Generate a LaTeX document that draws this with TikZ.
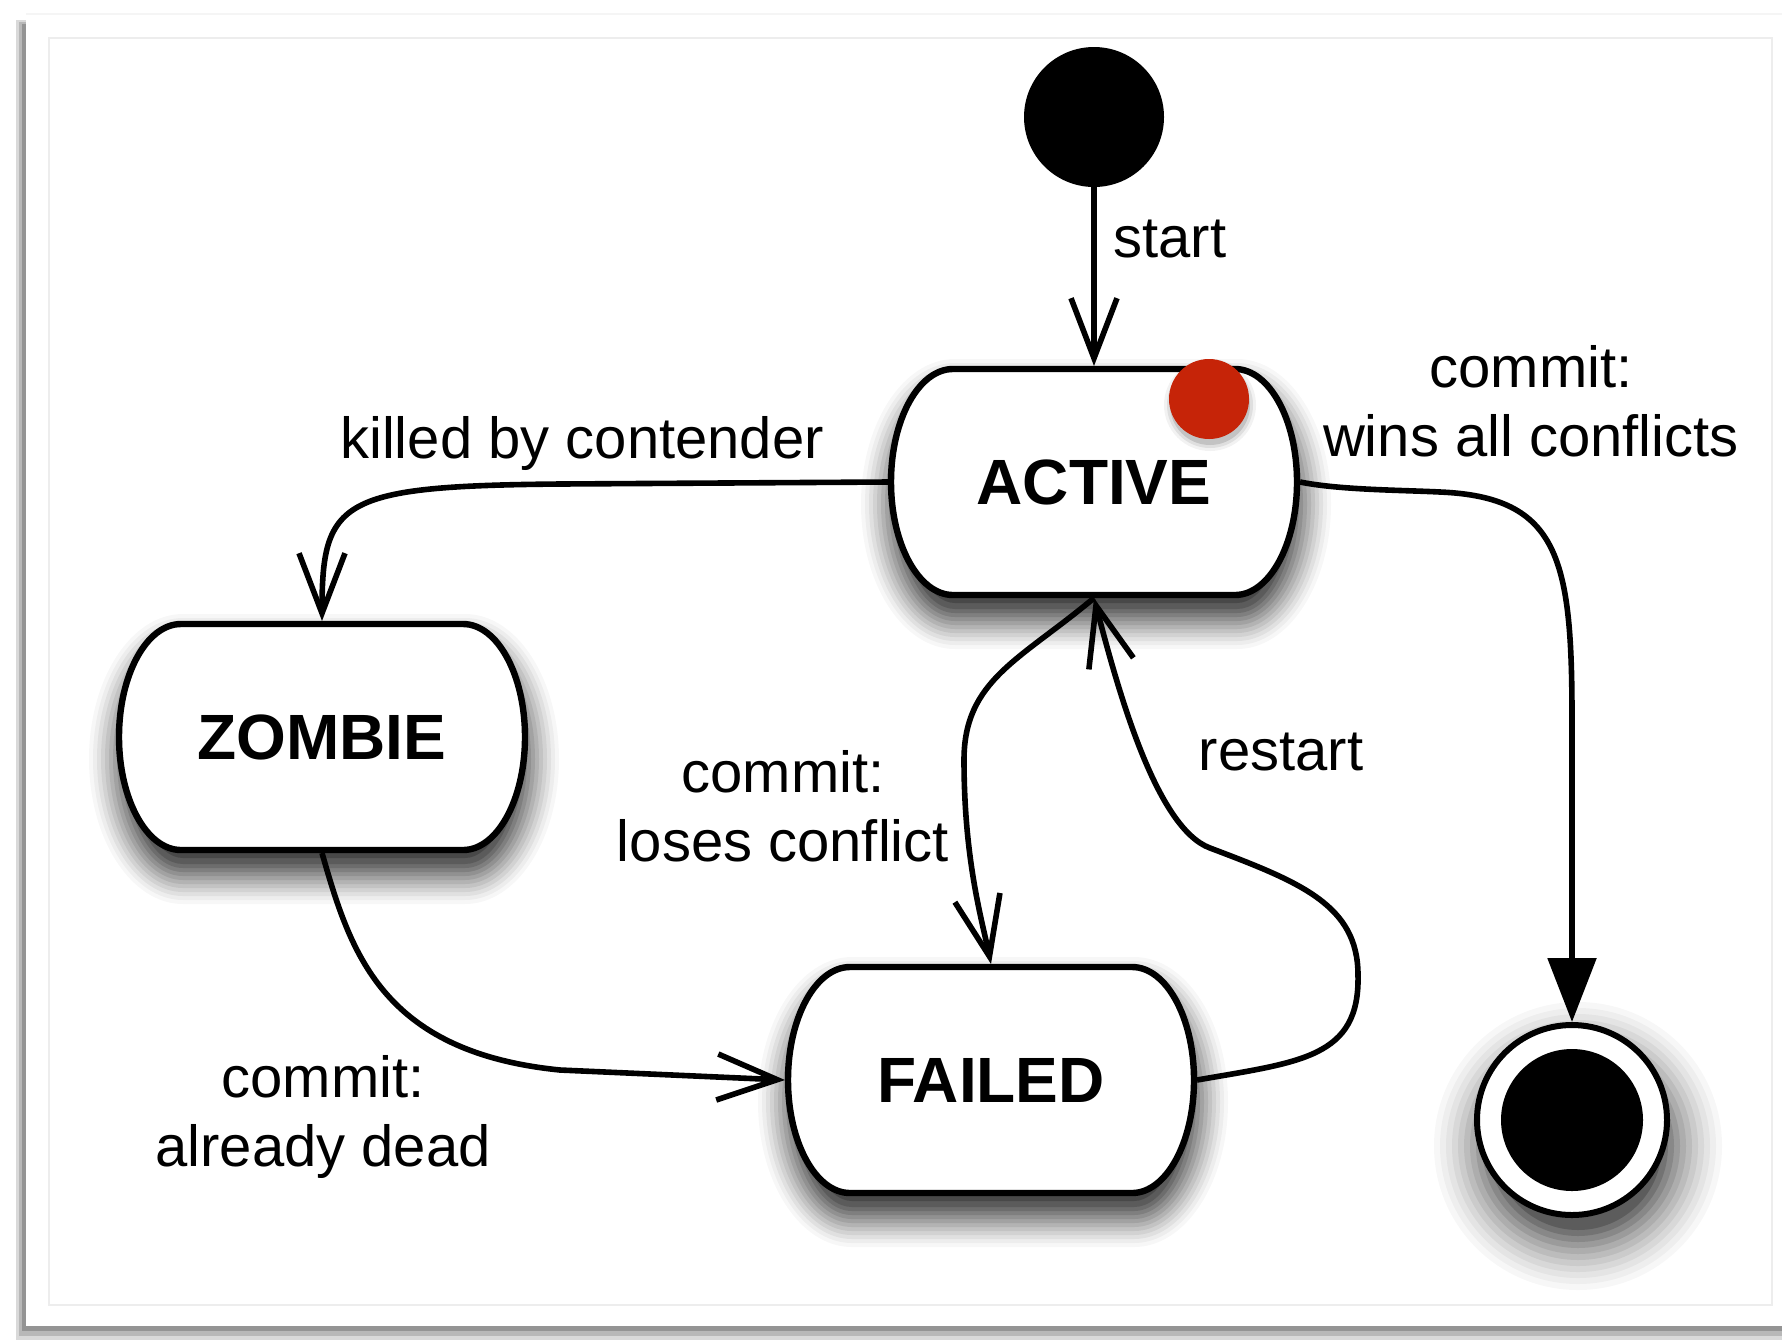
\documentclass[tikz,border=0pt]{standalone}
\usepackage{fontspec}
\setmainfont{Liberation Sans}
\usetikzlibrary{arrows.meta}
\definecolor{dotred}{RGB}{198,36,8}
\tikzset{
  stateline/.style={draw=black, line width=3.2pt, fill=white},
  statelabel/.style={font=\fontsize{32}{36}\selectfont\bfseries, inner sep=0pt, outer sep=0pt, minimum width=206pt, minimum height=116pt},
  lbl/.style={font=\fontsize{29}{34.7}\selectfont, align=center, inner sep=0pt},
  conn/.style={line width=2.8pt},
  openarrow/.style={conn, -{Straight Barb[length=30pt,width=23pt]}},
  solidtip/.style={conn, -{Triangle[length=32pt,width=24pt]}},
}
% state outline path: #1 centre coordinate name, #2 inflation (pt), #3/#4 offset (pt)
\newcommand\stpath[4]{%
  ([shift={({(-70.5+#3)*1pt},{(56.5+#2+#4)*1pt})}]#1) -- ([shift={({(70.5+#3)*1pt},{(56.5+#2+#4)*1pt})}]#1)
  arc[start angle=90, end angle=-90, x radius={(31+#2)*1pt}, y radius={(56.5+#2)*1pt}]
  -- ([shift={({(-70.5+#3)*1pt},{(-56.5-#2+#4)*1pt})}]#1)
  arc[start angle=270, end angle=90, x radius={(31+#2)*1pt}, y radius={(56.5+#2)*1pt}] -- cycle}
\newcommand\stateshape[1]{%
  \foreach \d/\o in {16/0.03, 14/0.04, 12/0.05, 10/0.06, 8/0.07, 6/0.08, 4/0.09, 2/0.10, 0/0.12, -2/0.14, -4/0.16, -7/0.2}{
    \fill[black, opacity=\o] \stpath{#1}{\d}{1}{-11};
  }
  \draw[stateline] \stpath{#1}{0}{0}{0};}
\begin{document}
\begin{tikzpicture}[x=0.5pt, y=-0.5pt]
\useasboundingbox (0,0) rectangle (1782,1340);

% frame
\fill[white] (0,0) rectangle (1782,1340);
\fill[black!15] (16,20) rectangle (1800,1340);
\fill[black!28] (19,22) rectangle (1800,1336);
\fill[black!42] (22,24) rectangle (1800,1331);
\fill[white] (26,14) rectangle (1800,1326);
\draw[black!4, line width=0.6pt] (26,14) -- (1800,14);
\draw[black!7, line width=1pt] (49,38) rectangle (1772,1305);

% state centres
\coordinate (cA) at (1094,482);
\coordinate (cZ) at (322,737);
\coordinate (cF) at (991,1080);
\stateshape{cA}
\stateshape{cZ}
\stateshape{cF}

\node[statelabel] (A) at (cA) {ACTIVE};
\node[statelabel] (Z) at (cZ) {ZOMBIE};
\node[statelabel] (F) at (cF) {FAILED};

% red marker
\coordinate (cdot) at (1209,399);
\foreach \r/\o in {23/0.05, 21.5/0.08, 20/0.12}{
  \fill[black, opacity=\o] ([shift={(0.5pt,-3pt)}]cdot) circle[radius=\r pt];
}
\node[circle, fill=dotred, minimum size=40pt, inner sep=0pt] (dot) at (cdot) {};

% start / end
\node[circle, fill=black, minimum size=70pt, inner sep=0pt] (S) at (1094,117) {};
\coordinate (cE) at (1572,1120);
\foreach \r/\o in {72/0.03, 69/0.035, 66/0.04, 63/0.05, 60/0.06, 57/0.07, 54/0.08, 51/0.10, 48/0.12, 45/0.15, 42/0.2}{
  \fill[black, opacity=\o] ([shift={(3pt,-13pt)}]cE) circle[radius=\r pt];
}
\node[circle, draw=black, line width=3pt, fill=white, minimum size=95pt, inner sep=0pt, outer sep=1.5pt] (E) at (cE) {};
\node[circle, fill=black, minimum size=71pt, inner sep=0pt] (Ei) at (E.center) {};

% connectors
\draw[openarrow] (S.south) -- (A.north);
\draw[openarrow] (A.west) -- (560,484) .. controls (340,486) and (322,500) .. (Z.north);
\draw[solidtip] (A.east) .. controls (1340,490) and (1400,490) .. (1440,492)
   .. controls (1560,497) and (1572,560) .. (1572,720) -- (E.north);
\draw[openarrow] (A.south) .. controls (1020,660) and (964,680) .. (964,760)
   .. controls (964,860) and (982,920) .. (F.north);
\draw[openarrow] (F.east) .. controls (1300,1062) and (1360,1058) .. (1358,975)
   .. controls (1358,905) and (1300,882) .. (1210,848)
   .. controls (1156,828) and (1118,690) .. (A.south);
\draw[openarrow] (Z.south) .. controls (350,950) and (380,1052) .. (560,1070) -- (F.west);

% labels
\node[lbl, anchor=west] (lstart) at (1113,239) {start};
\node[lbl] (lwin) at (1531,401) {commit:\\wins all conflicts};
\node[lbl] (lkill) at (582,443) {killed by contender};
\node[lbl] (llose) at (783,806) {commit:\\loses conflict};
\node[lbl] (lrestart) at (1281,752) {restart};
\node[lbl] (ldead) at (323,1117) {commit:\\already dead};
\end{tikzpicture}
\end{document}
